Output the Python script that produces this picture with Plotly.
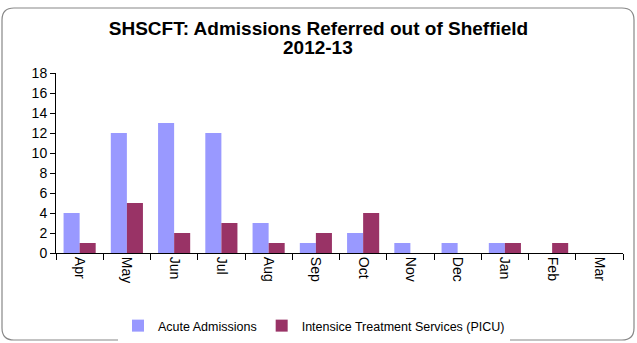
import plotly.graph_objects as go

months = ["Apr", "May", "Jun", "Jul", "Aug", "Sep", "Oct", "Nov", "Dec", "Jan", "Feb", "Mar"]
acute = [4, 12, 13, 12, 3, 1, 2, 1, 1, 1, 0, 0]
picu = [1, 5, 2, 3, 1, 2, 4, 0, 0, 1, 1, 0]
y_ticks = list(range(0, 19, 2))

W, H = 637, 343
L, R, T, B = 56, 14, 73, 90
pw, ph = W - L - R, H - T - B

fig = go.Figure()
fig.add_trace(go.Bar(x=months, y=acute, name="Acute Admissions", marker_color="#9999FF",
                     marker_line_width=0))
fig.add_trace(go.Bar(x=months, y=picu, name="Intensice Treatment Services (PICU)",
                     marker_color="#993366", marker_line_width=0))

# rounded border in paper coords
def px2x(p): return (p - L) / pw
def py2y(p): return (H - B - p) / ph
x0, x1, y0, y1, r = 2, 634, 8, 340, 12
path = (f"M {px2x(x0+r)},{py2y(y0)} L {px2x(x1-r)},{py2y(y0)} "
        f"Q {px2x(x1)},{py2y(y0)} {px2x(x1)},{py2y(y0+r)} "
        f"L {px2x(x1)},{py2y(y1-r)} Q {px2x(x1)},{py2y(y1)} {px2x(x1-r)},{py2y(y1)} "
        f"L {px2x(x0+r)},{py2y(y1)} Q {px2x(x0)},{py2y(y1)} {px2x(x0)},{py2y(y1-r)} "
        f"L {px2x(x0)},{py2y(y0+r)} Q {px2x(x0)},{py2y(y0)} {px2x(x0+r)},{py2y(y0)} Z")

FONT = "Liberation Sans, Arial, sans-serif"
fig.update_layout(
    width=W, height=H,
    margin=dict(l=L, r=R, t=T, b=B),
    paper_bgcolor="white", plot_bgcolor="white",
    font=dict(family=FONT, color="black"),
    barmode="group", bargap=0.32, bargroupgap=0,
    title=dict(text="<b>SHSCFT: Admissions Referred out of Sheffield</b>",
               x=0.5, xref="container", xanchor="center",
               y=1 - 28 / H, yref="container", yanchor="middle",
               font=dict(size=19, family=FONT)),
    annotations=[dict(text="<b>2012-13</b>", xref="paper", yref="paper",
                      x=px2x(318), y=py2y(47), xanchor="center", yanchor="middle",
                      showarrow=False, font=dict(size=19, family=FONT))],
    showlegend=True,
    legend=dict(orientation="h", x=118 / W, xref="container", xanchor="left",
                y=1 - 326 / H, yref="container", yanchor="middle",
                font=dict(size=12.5), itemwidth=30, traceorder="normal"),
    shapes=[dict(type="path", path=path, xref="paper", yref="paper",
                 line=dict(color="#888888", width=1.2), layer="below")],
)
fig.update_xaxes(type="category", tickangle=90, tickson="boundaries",
                 ticks="outside", ticklen=6, tickcolor="black", tickwidth=1,
                 showline=True, linecolor="black", linewidth=1,
                 tickfont=dict(size=14), showgrid=False)
fig.update_yaxes(range=[0, 18], tickvals=y_ticks, ticks="outside", ticklen=5,
                 tickcolor="black", showline=True, linecolor="black", linewidth=1,
                 tickfont=dict(size=14), showgrid=False, zeroline=False)

fig.write_html("out.html")
